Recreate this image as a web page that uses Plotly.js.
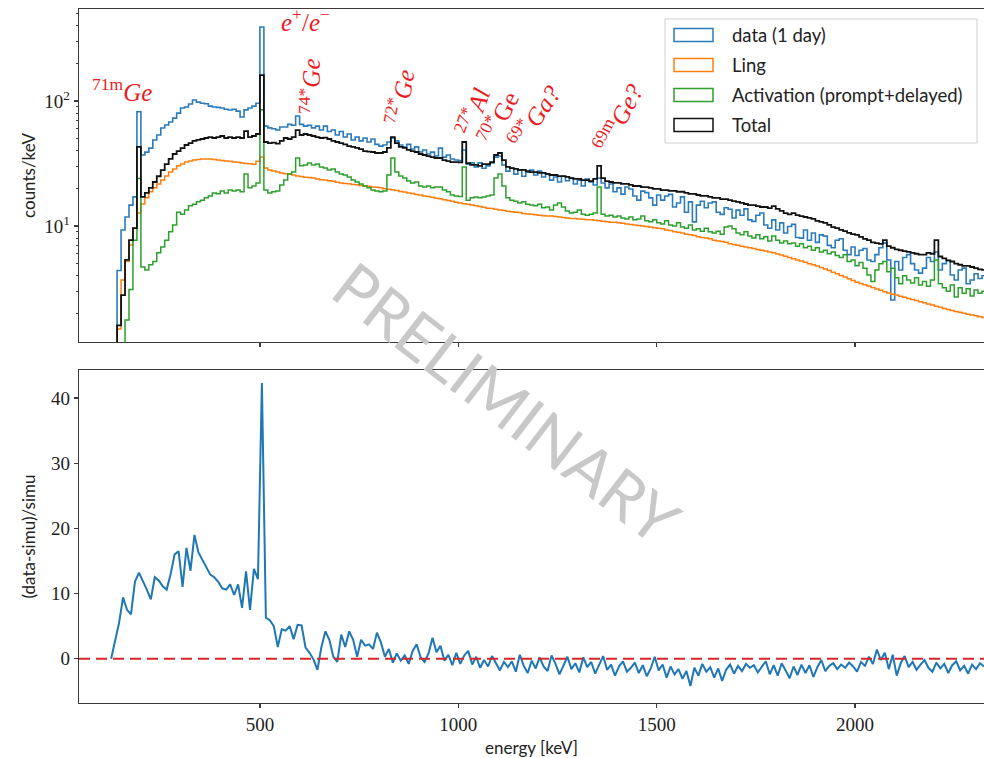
<!DOCTYPE html>
<html>
<head>
<meta charset="utf-8">
<script src="https://cdn.plot.ly/plotly-3.0.1.min.js"></script>
<style>
  html, body { margin: 0; padding: 0; background: #ffffff; }
  #chart { width: 984px; height: 758px; }
</style>
</head>
<body>
<div id="chart"></div>
<script>
// Spectrum binning: 10 keV bins, first bin starts at 100 keV
const binStart = 100;
const binWidth = 10;

// counts/keV per bin, one row per 100 keV
const dataDay = [
  0.3, 0.3, 0.4, 1.0, 4.4, 9.3, 11.8, 14.7, 17.1, 82,
  37, 39, 42, 48.8, 53.5, 60.8, 64.3, 67.9, 73, 80,
  88, 89.5, 94.6, 102, 98, 96, 95, 91, 89.5, 89,
  88, 86, 84.7, 86, 83, 74.5, 85, 88, 91, 96,
  391, 63, 61, 60, 58.6, 62, 62, 65, 64, 76,
  65, 63, 64, 61, 63, 58.6, 63, 57, 58.6, 53.5,
  57, 51.5, 54.5, 48.8, 51.5, 48, 50.6, 47, 49.7, 45,
  43.6, 44.5, 47, 50.6, 48, 44.5, 42.9, 45, 41.3, 43,
  39.1, 40.6, 37.7, 39, 36.3, 42, 35.6, 37, 34.4, 33.7,
  33.4, 40.6, 31.3, 32, 29.7, 32, 29, 30.3, 32, 35.6,
  36.3, 30.8, 27.5, 29, 26, 28, 25, 27, 28, 25.6,
  27.5, 24.7, 26, 23.3, 24.7, 22.5, 25, 23, 24.2, 21.7,
  23.3, 20.9, 23.7, 22.5, 21.3, 24.2, 22.1, 20.2, 21.7, 18.8,
  20.2, 18, 20.5, 19.8, 17.4, 16.1, 19, 18.5, 16.8, 14.7,
  17.7, 16.1, 17.4, 17.9, 14.2, 15.3, 17.1, 12.9, 15.6, 10.8,
  14.7, 15.8, 14, 15.3, 15.6, 12.9, 12.4, 14, 13.6, 11.6,
  13.4, 12.2, 13.7, 11.2, 10.9, 12.2, 12.7, 10.2, 9.6, 11.2,
  9.3, 10.6, 8.8, 9.9, 10.3, 8.1, 8.0, 9.3, 7.7, 8.8,
  7.4, 8.5, 8.3, 7.0, 6.7, 7.7, 7.9, 6.4, 5.9, 6.8,
  5.8, 6.4, 6.6, 5.35, 5.2, 5.9, 6.7, 7.3, 5.35, 2.56,
  5.2, 4.45, 5.6, 5.9, 5.0, 4.45, 4.2, 4.6, 5.6, 5.2,
  6.2, 4.45, 5.0, 5.3, 4.06, 3.7, 4.45, 4.6, 3.45, 3.7,
  4.15, 3.8, 4.0
];

const ling = [
  0.3, 0.3, 0.3, 0.5, 1.5, 3.7, 5.2, 7.05, 9.6, 12.7,
  15.0, 16.8, 18.8, 20.2, 21.7, 23.3, 25.1, 27.0, 28.6, 30.3,
  31.3, 32.5, 33.1, 33.7, 34.0, 34.4, 34.4, 34.3, 34.0, 33.7,
  33.5, 33.1, 32.9, 32.5, 32.3, 32.0, 31.7, 31.5, 31.2, 33.0,
  35.6, 29.1, 28.1, 27.6, 27.1, 26.6, 26.2, 25.9, 25.6, 25.1,
  24.9, 24.6, 24.4, 24.2, 23.8, 23.5, 23.3, 23.0, 22.8, 22.4,
  22.1, 21.9, 21.8, 21.5, 21.4, 21.1, 20.9, 20.8, 20.5, 20.4,
  20.2, 19.9, 19.7, 19.5, 19.2, 18.9, 18.7, 18.4, 18.2, 17.9,
  17.7, 17.4, 17.2, 17.0, 16.7, 16.5, 16.2, 16.0, 15.8, 15.5,
  15.3, 15.1, 14.9, 14.7, 14.5, 14.3, 14.1, 13.9, 13.8, 13.6,
  13.4, 13.3, 13.1, 13.0, 12.9, 12.8, 12.6, 12.5, 12.4, 12.3,
  12.2, 12.1, 12.0, 12.0, 11.9, 11.8, 11.7, 11.6, 11.5, 11.5,
  11.4, 11.3, 11.2, 11.2, 11.1, 11.0, 10.9, 10.8, 10.7, 10.7,
  10.6, 10.5, 10.4, 10.3, 10.2, 10.1, 10.0, 9.9, 9.8, 9.7,
  9.6, 9.5, 9.3, 9.2, 9.0, 8.9, 8.8, 8.6, 8.5, 8.4,
  8.2, 8.1, 8.0, 7.9, 7.7, 7.6, 7.5, 7.4, 7.2, 7.1,
  7.0, 6.9, 6.8, 6.7, 6.6, 6.5, 6.4, 6.3, 6.2, 6.1,
  5.96, 5.85, 5.72, 5.6, 5.48, 5.35, 5.24, 5.12, 5.0, 4.9,
  4.79, 4.65, 4.52, 4.40, 4.27, 4.15, 4.02, 3.9, 3.78, 3.66,
  3.55, 3.47, 3.39, 3.31, 3.22, 3.14, 3.06, 2.98, 2.91, 2.85,
  2.8, 2.74, 2.69, 2.63, 2.58, 2.53, 2.48, 2.43, 2.38, 2.33,
  2.28, 2.24, 2.19, 2.15, 2.11, 2.07, 2.04, 2.0, 1.97, 1.94,
  1.91, 1.88, 1.85
];

const activation = [
  0.3, 0.3, 0.3, 0.3, 0.5, 0.9, 1.77, 3.1, 7.7, 24,
  4.7, 4.45, 4.9, 5.2, 6.1, 6.8, 7.7, 9.0, 10.2, 12.9,
  12.4, 13.4, 14.5, 14.9, 15.6, 16.1, 16.8, 17.4, 18.4, 18.1,
  19.1, 18.4, 19.4, 19.1, 19.4, 18.8, 26.1, 20.2, 20.9, 22.1,
  85, 19.4, 18.4, 18.8, 19.1, 21.3, 23.3, 26.1, 27, 35,
  30.3, 30.8, 31.9, 30.8, 31.3, 29.7, 29.1, 28.1, 28.6, 27,
  26.1, 25.6, 24.7, 23.3, 22.5, 21.7, 20.9, 20.2, 19.4, 19.1,
  18.8, 19.1, 25.6, 35, 27, 25.1, 24.2, 22.9, 22.1, 22.5,
  20.9, 20.5, 20.9, 20.2, 20.5, 20.5, 19.4, 18.8, 17.7, 17.4,
  17.2, 29.7, 16.1, 16.8, 17.1, 16.8, 17.1, 17.4, 17.7, 24.2,
  26.1, 20.9, 16.8, 16.1, 15.8, 15.3, 15.6, 14.9, 14.7, 14.5,
  14.9, 14.0, 14.2, 13.4, 14.7, 15.3, 14.2, 13.2, 12.7, 12.9,
  13.4, 12.4, 12.2, 12.4, 12.7, 20.5, 12.4, 12.0, 12.2, 11.8,
  12.0, 11.6, 11.4, 11.8, 11.2, 11.4, 12.0, 11.0, 10.8, 11.2,
  10.6, 10.4, 11.0, 10.2, 10.0, 10.6, 9.8, 9.6, 10.2, 9.3,
  9.5, 9.1, 9.6, 9.0, 8.8, 9.1, 8.6, 9.8, 10.0, 9.5,
  8.8, 8.5, 9.0, 8.3, 8.0, 8.5, 7.9, 8.2, 7.6, 8.3,
  7.7, 7.3, 7.6, 7.2, 7.3, 6.9, 7.2, 6.7, 6.9, 6.4,
  6.7, 6.2, 6.4, 6.0, 6.2, 5.8, 5.6, 5.9, 5.2, 5.35,
  4.8, 5.1, 4.6, 4.06, 3.6, 4.45, 5.0, 5.2, 4.3, 4.6,
  3.85, 3.45, 4.0, 3.7, 3.5, 3.85, 3.38, 3.6, 3.3, 3.7,
  5.35, 3.45, 3.2, 3.0, 3.38, 2.7, 3.2, 2.9, 3.15, 2.75,
  3.08, 2.9, 3.0
];

const total = [
  0.3, 0.3, 0.4, 0.6, 1.6, 2.8, 5.35, 7.7, 9.6, 43,
  17.1, 18.4, 20.2, 22.5, 25, 28, 31.3, 34.4, 37.7, 39.8,
  42, 44.5, 46, 48, 48.8, 49.7, 50.6, 51.5, 50.6, 51.5,
  52.5, 50.6, 51.5, 50.6, 51.5, 50.6, 57.5, 51.5, 52.5, 54.5,
  161, 47, 46, 46.5, 45.6, 48, 50.6, 49.7, 51.5, 58.6,
  53.5, 54.5, 53.5, 52.5, 51.5, 50.6, 50.9, 49.7, 48, 47,
  46, 45, 43.6, 42.9, 42.2, 41.3, 39.8, 39.4, 39.1, 38.4,
  38.4, 39.1, 42.2, 51.5, 46, 42.9, 42.2, 40.6, 39.8, 39.1,
  37.7, 37, 36.3, 35.6, 35, 35, 33.7, 33, 32.5, 32.5,
  32.3, 47, 31.9, 30.8, 30.8, 30.3, 31.3, 31.3, 32.5, 37,
  38.4, 33.7, 29.7, 29.1, 28.6, 28.1, 28.1, 27.5, 27, 27,
  26.6, 26.6, 26.1, 25.6, 25.6, 25.1, 25.1, 24.7, 24.2, 23.8,
  23.8, 23.3, 23.3, 22.9, 23.8, 30.3, 24.2, 22.9, 22.5, 22.1,
  22.1, 21.7, 21.7, 21.3, 20.9, 20.9, 20.5, 20.5, 20.2, 19.8,
  19.8, 19.4, 19.4, 19.1, 19.1, 18.8, 18.8, 18.4, 18.1, 18.1,
  17.7, 17.4, 17.4, 17.1, 16.8, 16.8, 16.4, 16.4, 16.1, 15.8,
  15.6, 15.3, 15.0, 14.7, 14.7, 14.4, 14.2, 14.2, 13.9, 14.4,
  13.7, 13.2, 12.7, 12.4, 12.7, 12.2, 12.0, 11.8, 11.6, 11.4,
  11.0, 10.8, 10.6, 10.2, 9.8, 9.6, 9.3, 9.1, 8.8, 8.6,
  8.5, 8.2, 7.9, 7.7, 7.4, 7.3, 7.2, 7.7, 6.9, 6.7,
  6.5, 6.4, 6.3, 6.2, 6.1, 6.0, 5.9, 5.9, 6.1, 6.0,
  7.7, 5.7, 5.5, 5.3, 5.2, 5.0, 4.9, 4.8, 4.8, 4.7,
  4.6, 4.5, 4.45
];

// (data-simu)/simu per bin
const residual = [
  null, null, 0, 3.0, 5.5, 9.4, 7.5, 6.8, 11.8, 13.2,
  12.0, 10.6, 9.1, 12.5, 12.0, 11.1, 10.6, 13.0, 16.0, 16.5,
  11.0, 17.0, 13.5, 19.0, 16.3, 15.2, 14.2, 12.9, 12.5, 11.8,
  10.8, 10.6, 11.4, 9.8, 11.4, 7.8, 13.4, 7.5, 13.8, 12.2,
  42.3, 6.3, 5.9, 5.0, 1.8, 4.5, 4.3, 5.0, 3.0, 5.2,
  5.1, 1.7, 0.9, -0.1, -1.7, 1.8, 4.2, 2.9, 0.3, -0.5,
  3.7, 1.8, 4.2, 2.9, 0.3, 2.9, 2.0, 2.2, 1.5, 4.0,
  2.5, 0.3, 1.5, -0.6, 0.8, -0.3, 0.5, -0.8, 1.2, 2.2,
  0.2, -0.5, 0.8, 3.2, 1.0, 2.0, -0.3, 0.6, -1.0, 0.9,
  -0.8, 0.5, 1.2, -0.9, 0.3, -1.4, -0.2, -1.2, 0.4, -0.6,
  -1.8, -0.5, -1.3, -0.4, -2.0, 0.6, -1.1, -2.2, -0.3, -1.5,
  0.2, -1.2, -1.9, 0.5, -0.8, -2.4, -0.9, 0.3, -1.6, -0.7,
  -2.1, 0.2, -1.3, -0.5, -2.3, -0.8, 0.4, -1.7, -0.9, -2.6,
  -1.2, -0.4, -2.0, -1.4, -0.6, -2.2, -1.0, -2.7, -1.5, 0.3,
  -1.8, -0.9, -2.9, -1.2, -2.4, -1.6, -3.1, -1.9, -4.2, -1.4,
  -2.6, -0.8, -2.0, -1.3, -2.9, -1.5, -3.4, -1.7, -0.9, -2.3,
  -1.1, -1.9, -0.8, -1.4, -1.0, -2.1, -1.2, -0.4, -2.4, -1.0,
  -2.6, -0.7, -1.8, -3.0, -1.2, -2.5, -0.9, -2.2, -1.0, -2.8,
  -1.3, -0.2, -1.9, -1.1, -0.7, -1.6, -0.9, -1.4, -0.6, -1.2,
  -2.0, -0.5, -1.1, 0.3, -0.8, 1.4, -0.2, 0.9, -1.6, 0.6,
  -2.6, -0.7, 0.4, -1.3, -0.5, -1.7, -0.9, -0.2, -1.4, -2.0,
  -0.6, -1.5, -0.8, -2.2, -1.0, -0.4, -1.8, -1.1, -2.3, -0.9,
  -1.6, -0.7, -1.2
];

// Series labels and colours
const seriesNames = ['data (1 day)', 'Ling', 'Activation (prompt+delayed)', 'Total'];
const seriesColors = ['#2b7bba', '#ff7f0e', '#2ca02c', '#111111'];

// Line identifications: label, energy (keV), vertical pixel position, text angle
const lineLabels = [
  { text: '<sup>71m</sup><i>Ge</i>', e: 152, yPx: 90, angle: 0 },
  { text: '<i>e</i><sup>+</sup>/<i>e</i><sup>\u2212</sup>', e: 614, yPx: 20, angle: 0 },
  { text: '<sup>74*</sup><i>Ge</i>', e: 626, yPx: 86, angle: -90 },
  { text: '<sup>72*</sup><i>Ge</i>', e: 852, yPx: 97, angle: -80 },
  { text: '<sup>27*</sup><i>Al</i>', e: 1036, yPx: 111, angle: -70 },
  { text: '<sup>70*</sup>Ge', e: 1100, yPx: 117, angle: -63 },
  { text: '<sup>69*</sup><i>Ga?</i>', e: 1190, yPx: 116, angle: -56 },
  { text: '<sup>69m</sup><i>Ge?</i>', e: 1402, yPx: 117, angle: -62 }
];

const energy = dataDay.map((_, i) => binStart + binWidth * (i + 0.5));

// Page geometry (pixels) used to place the legend box and labels
const W = 984, H = 758;
const M = { l: 79, r: 0, t: 9, b: 55 };
const plotW = W - M.l - M.r;
const plotH = H - M.t - M.b;
const px = x => (x - M.l) / plotW;
const py = y => (H - M.b - y) / plotH;

const topDomain = [py(342), 1];
const botDomain = [0, py(370)];

const axisLine = '#3a3a3a';
const tickFont = { family: 'Liberation Serif, DejaVu Serif, serif', size: 19, color: '#222' };
const titleFont = { family: 'Lato, DejaVu Sans, sans-serif', size: 17, color: '#222' };

const histSeries = [dataDay, ling, activation, total];
const histWidths = [1.6, 1.5, 1.5, 1.8];
const traces = histSeries.map((vals, k) => ({
  type: 'scatter', mode: 'lines',
  x: energy, y: vals,
  xaxis: 'x2', yaxis: 'y2',
  name: seriesNames[k],
  line: { color: seriesColors[k], width: histWidths[k], shape: 'hvh' },
  hoverinfo: 'x+y+name'
}));

traces.push({
  type: 'scatter', mode: 'lines',
  x: energy, y: residual,
  xaxis: 'x', yaxis: 'y',
  name: '(data-simu)/simu',
  line: { color: '#1f77b4', width: 2 },
  connectgaps: false
});

const minorLog = [];
[1, 10, 100].forEach(d => { for (let m = 2; m <= 9; m++) minorLog.push(m * d); });

const xRange = [44, 2325];
const commonX = {
  range: xRange,
  tickvals: [500, 1000, 1500, 2000],
  ticks: 'outside', ticklen: 4, tickwidth: 1.2, tickcolor: axisLine,
  showline: true, linecolor: axisLine, linewidth: 1.3, mirror: true,
  showgrid: false, zeroline: false
};

// Legend drawn as a framed box with outlined patches
const legendShapes = [{
  type: 'rect', xref: 'paper', yref: 'paper',
  x0: px(665), x1: px(977), y0: py(143), y1: py(19),
  line: { color: '#d0d0d0', width: 1 },
  fillcolor: 'rgba(255,255,255,0.85)', layer: 'above'
}];
const legendAnnots = [];
seriesNames.forEach((name, k) => {
  const cy = 35 + 30 * k;
  legendShapes.push({
    type: 'rect', xref: 'paper', yref: 'paper',
    x0: px(674), x1: px(713), y0: py(cy + 6.5), y1: py(cy - 6.5),
    line: { color: seriesColors[k], width: 1.5 },
    fillcolor: 'rgba(0,0,0,0)', layer: 'above'
  });
  legendAnnots.push({
    xref: 'paper', yref: 'paper', x: px(730), y: py(cy),
    xanchor: 'left', yanchor: 'middle', showarrow: false,
    text: name,
    font: { family: 'Lato, DejaVu Sans, sans-serif', size: 18.5, color: '#222' }
  });
});

const peakAnnots = lineLabels.map(l => ({
  xref: 'x2', yref: 'paper', x: l.e, y: py(l.yPx),
  xanchor: 'center', yanchor: 'middle', showarrow: false,
  text: l.text, textangle: l.angle,
  font: { family: 'Liberation Serif, DejaVu Serif, serif', size: 25, color: '#ea1d25' }
}));

const watermark = {
  xref: 'paper', yref: 'paper', x: px(507), y: py(402),
  xanchor: 'center', yanchor: 'middle', showarrow: false,
  text: 'PRELIMINARY', textangle: 37.6,
  font: { family: 'Lato, DejaVu Sans, sans-serif', size: 64, weight: 400, color: '#c8c8c8' }
};

const layout = {
  width: W, height: H,
  margin: M,
  paper_bgcolor: '#ffffff', plot_bgcolor: '#ffffff',
  showlegend: false,
  xaxis: Object.assign({}, commonX, {
    domain: [0, 1], anchor: 'y',
    tickfont: tickFont,
    title: { text: 'energy [keV]', font: titleFont, standoff: 8 }
  }),
  xaxis2: Object.assign({}, commonX, {
    domain: [0, 1], anchor: 'y2', matches: 'x',
    showticklabels: false
  }),
  yaxis: {
    domain: botDomain, anchor: 'x',
    range: [-6.8, 44.3],
    tickvals: [0, 10, 20, 30, 40],
    ticks: 'outside', ticklen: 4, tickwidth: 1.2, tickcolor: axisLine,
    showline: true, linecolor: axisLine, linewidth: 1.3,
    showgrid: false, zeroline: false,
    tickfont: tickFont,
    title: { text: '(data-simu)/simu', font: titleFont }
  },
  yaxis2: {
    domain: topDomain, anchor: 'x2', type: 'log',
    range: [Math.log10(1.18), Math.log10(545)],
    tickvals: [10, 100], ticktext: ['10<sup>1</sup>', '10<sup>2</sup>'],
    ticks: 'outside', ticklen: 4, tickwidth: 1.2, tickcolor: axisLine,
    minor: { tickmode: 'array', tickvals: minorLog, ticks: 'outside', ticklen: 2.2, tickwidth: 1, tickcolor: axisLine },
    showline: true, linecolor: axisLine, linewidth: 1.3,
    showgrid: false, zeroline: false,
    tickfont: tickFont,
    title: { text: 'counts/keV', font: titleFont }
  },
  shapes: [{
    type: 'line', xref: 'x domain', yref: 'y',
    x0: 0, x1: 1, y0: 0, y1: 0,
    line: { color: '#d62728', width: 2, dash: '11px,6px' }
  }].concat(legendShapes),
  annotations: peakAnnots.concat(legendAnnots, [watermark])
};

Plotly.newPlot('chart', traces, layout, { displayModeBar: false, staticPlot: true });
</script>
</body>
</html>
